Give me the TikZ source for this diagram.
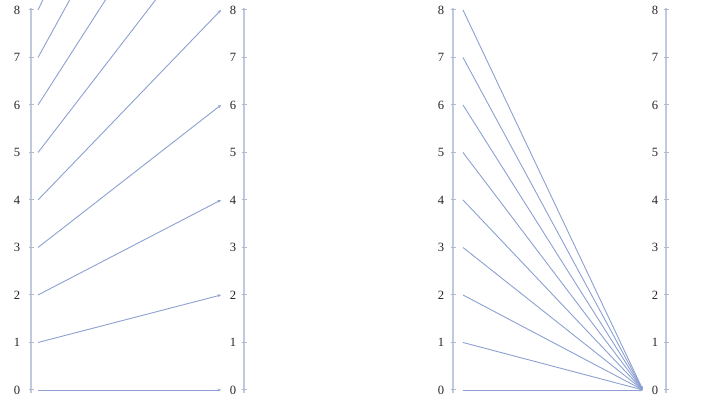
\documentclass[tikz,border=0pt]{standalone}
\usepackage{fontspec}
\setmainfont{Liberation Serif}
\usetikzlibrary{arrows.meta}

\definecolor{axiscol}{RGB}{192,202,222}
\definecolor{mapcol}{RGB}{140,160,210}

\tikzset{
    axis/.style={draw=axiscol,line width=0.9pt},
    tick/.style={draw=axiscol!80!gray,line width=0.5pt},
    lbl/.style={inner sep=0pt,font=\fontsize{6.3}{7}\selectfont,text=black!85},
    map/.style={draw=mapcol,line width=0.45pt,-{Stealth[length=1.7pt,width=1.5pt]}}
}

\begin{document}
\begin{tikzpicture}[x=0.5pt,y=23.75pt]
        \useasboundingbox (0,-0.2947) rectangle (720,8.2105);
        \clip (0,-0.2947) rectangle (720,8.2105);

        % Axes
        \foreach \x in {31, 244, 453, 666} {
            \draw[axis] (\x,-0.06) -- (\x,8.05);
        }

        % Ticks and labels
        \foreach \v in {0,...,8} {
            \draw[tick] (29,\v) -- (34,\v);
            \node[lbl] (la\v) at (17,\v) {\v};
            \draw[tick] (242,\v) -- (247,\v);
            \node[lbl] (lb\v) at (233,\v) {\v};
            \draw[tick] (451,\v) -- (456,\v);
            \node[lbl] (ra\v) at (441,\v) {\v};
            \draw[tick] (664,\v) -- (669,\v);
            \node[lbl] (rb\v) at (655,\v) {\v};
        }

        % Points
        \foreach \v in {0,...,8} {
            \coordinate (ls\v) at (38,\v);
            \coordinate (rs\v) at (463,\v);
        }
        \foreach \v in {0,...,16} {
            \coordinate (lt\v) at (221,\v);
        }
        \coordinate (rt) at (643,0);

        % Edges
        \foreach \u [evaluate=\u as \w using int(2*\u)] in {0,...,8} {
            \draw[map] (ls\u) -- (lt\w);
        }

        \foreach \u in {0,...,8} {
            \draw[map] (rs\u) -- (rt);
        }
    \end{tikzpicture}
\end{document}
